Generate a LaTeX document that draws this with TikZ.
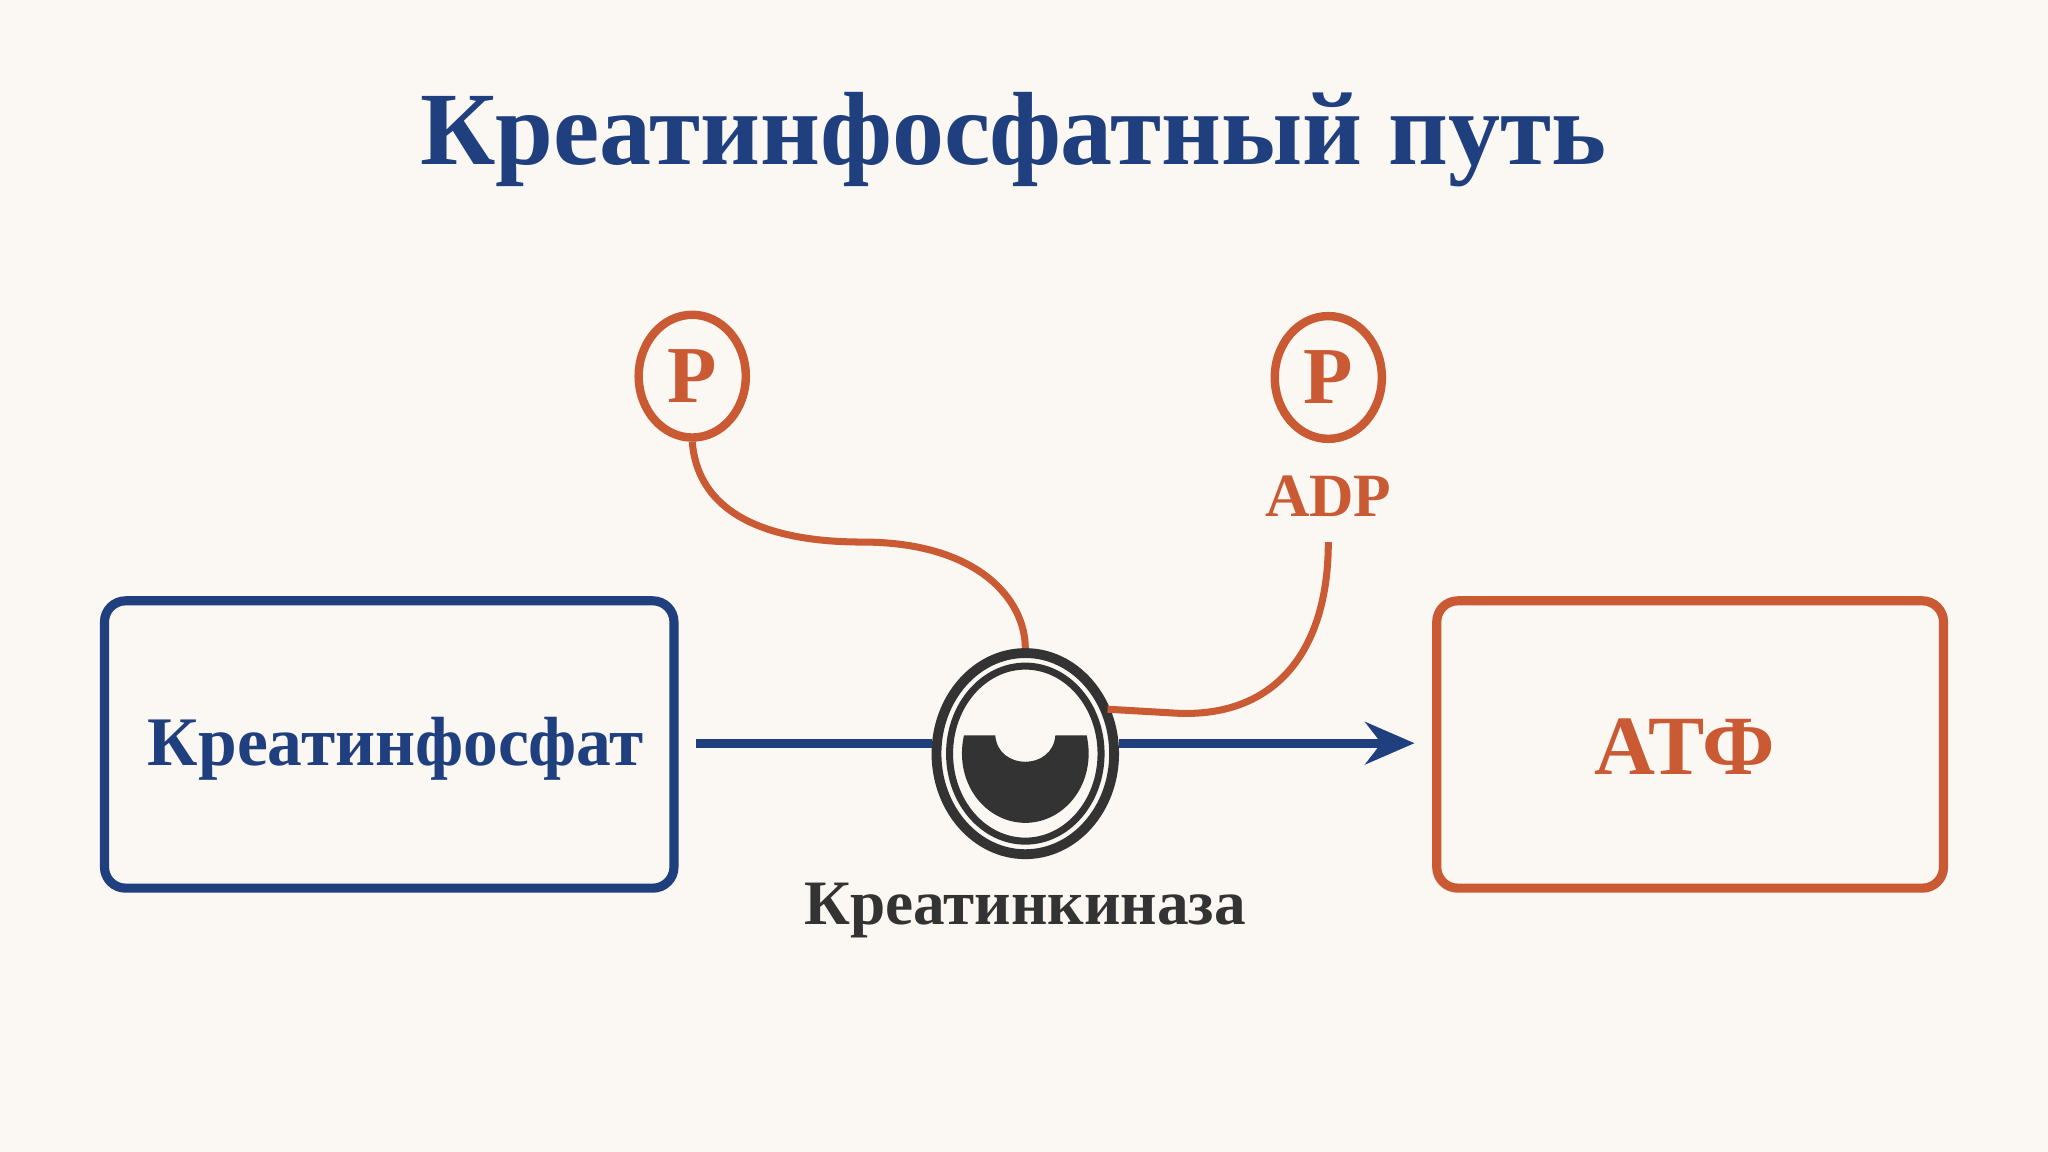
\documentclass[tikz,border=0pt]{standalone}
\usepackage{fontspec}
\usetikzlibrary{shapes.geometric,arrows.meta}
\setmainfont{Liberation Serif}
\definecolor{bg}{HTML}{FBF8F3}
\definecolor{cblue}{HTML}{1F3F7E}
\definecolor{corange}{HTML}{C95A34}
\definecolor{cdark}{HTML}{333333}
\begin{document}
\begin{tikzpicture}[x=0.01306cm,y=-0.01306cm,
  box/.style={draw,rounded corners=6pt,line width=2.6pt,minimum width=436*0.01306cm,minimum height=220*0.01306cm},
  pc/.style={draw=corange,ellipse,line width=2.4pt,minimum width=82*0.01306cm,minimum height=94*0.01306cm,inner sep=0pt,text=corange,font=\bfseries\fontsize{23}{23}\selectfont}]
\fill[bg] (0,0) rectangle (1568,882);
\useasboundingbox (0,0) rectangle (1568,882);
\node[text=cblue,font=\bfseries\fontsize{29.6}{36}\selectfont] (title) at (776,107) {Креатинфосфатный путь};
\node[box,draw=cblue] (cp) at (298,570) {};
\node[text=cblue,font=\bfseries\fontsize{19.8}{24}\selectfont] (cpt) at (303,573) {Креатинфосфат};
\node[box,draw=corange,minimum width=388*0.01306cm] (atp) at (1294,570) {};
\node[text=corange,font=\bfseries\fontsize{24}{30}\selectfont] (atpt) at (1290,572) {АТФ};
\node[draw=cdark,ellipse,line width=2.8pt,minimum width=136*0.01306cm,minimum height=154*0.01306cm] (enz) at (785,577) {};
\node[draw=cdark,ellipse,line width=2pt,minimum width=116*0.01306cm,minimum height=134*0.01306cm] (enzi) at (785,577) {};
\fill[cdark] (738,563) -- (762,563) .. controls (764,590) and (806,590) .. (808,563) -- (832,563)
  .. controls (840,600) and (815,630) .. (785,630) .. controls (755,630) and (730,600) .. (738,563) -- cycle;
\node[text=cdark,font=\bfseries\fontsize{18}{22}\selectfont] (enzt) at (785,697) {Креатинкиназа};
\node[pc] (p1) at (530,288) {P};
\node[pc] (p2) at (1017,289) {P};
\node[text=corange,font=\bfseries\fontsize{17.5}{22}\selectfont] (adp) at (1017,380) {ADP};
\coordinate (a1) at (533,569);
\coordinate (a2) at (1083,569);
\draw[cblue,line width=2.6pt] (a1) -- (enz.west |- a1);
\draw[cblue,line width=2.6pt,-{Stealth[length=14pt,width=12pt]}] (enz.east |- a2) -- (a2);
\draw[corange,line width=2pt] (p1.south) .. controls (535,400) and (600,415) .. (660,415) .. controls (750,415) and (785,460) .. (enz.north);
\coordinate (e2) at (848,543);
\draw[corange,line width=2pt] (1017,415) .. controls (1017,500) and (975,550) .. (900,546) -- (e2);
\end{tikzpicture}
\end{document}
